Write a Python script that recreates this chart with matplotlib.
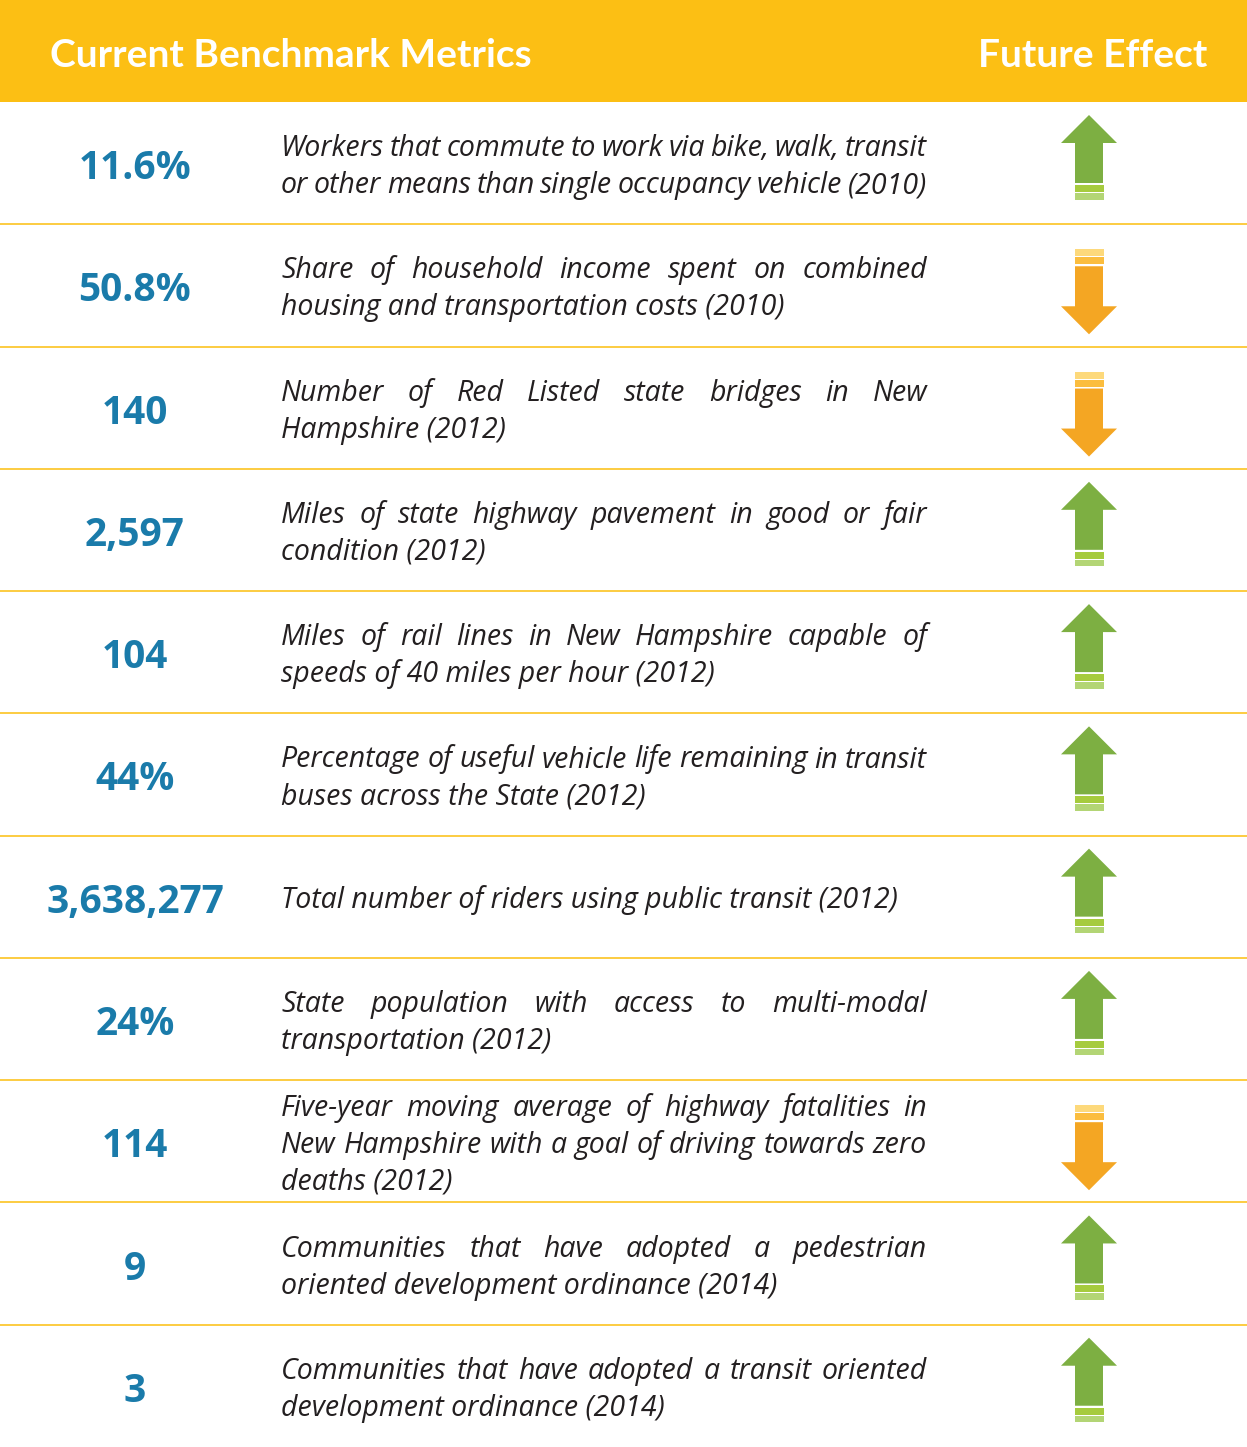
import matplotlib
matplotlib.use("Agg")
import matplotlib.pyplot as plt
from matplotlib.patches import Polygon, Rectangle

# ---------------- data ----------------
values = ["11.6%", "50.8%", "140", "2,597", "104", "44%", "3,638,277",
          "24%", "114", "9", "3"]
descriptions = [
    ["Workers that commute to work via bike, walk, transit",
     "or other means than single occupancy vehicle (2010)"],
    ["Share of household income spent on combined",
     "housing and transportation costs (2010)"],
    ["Number of Red Listed state bridges in New",
     "Hampshire (2012)"],
    ["Miles of state highway pavement in good or fair",
     "condition (2012)"],
    ["Miles of rail lines in New Hampshire capable of",
     "speeds of 40 miles per hour (2012)"],
    ["Percentage of useful vehicle life remaining in transit",
     "buses across the State (2012)"],
    ["Total number of riders using public transit (2012)"],
    ["State population with access to multi-modal",
     "transportation (2012)"],
    ["Five-year moving average of highway fatalities in",
     "New Hampshire with a goal of driving towards zero",
     "deaths (2012)"],
    ["Communities that have adopted a pedestrian",
     "oriented development ordinance (2014)"],
    ["Communities that have adopted a transit oriented",
     "development ordinance (2014)"],
]
directions = ["up", "down", "down", "up", "up", "up", "up", "up", "down", "up", "up"]
header_left = "Current Benchmark Metrics"
header_right = "Future Effect"

# ---------------- style ----------------
W, H = 1247, 1447
YELLOW = "#FCBF14"
SEP = "#FCC833"
BLUE = "#1A7BAA"
TEXT = "#231F20"
GREEN = "#7DAF42"
GREEN_S1 = "#A6CB3E"
GREEN_S2 = "#B3D575"
ORANGE = "#F4A623"
ORANGE_S1 = "#FBBD3E"
ORANGE_S2 = "#FDD97B"

HEADER_H = 102
ROW_H = (H - HEADER_H) / len(values)
TX0, TX1 = 281, 927
LINE_SP = 37
JUSTIFY_LAST = {0}

fig = plt.figure(figsize=(W / 100, H / 100), dpi=100)
ax = fig.add_axes([0, 0, 1, 1])
ax.set_xlim(0, W)
ax.set_ylim(H, 0)
ax.axis("off")
renderer = fig.canvas.get_renderer()


def width_of(t):
    bb = t.get_window_extent(renderer)
    return bb.width


def calibrate(s, target, **kw):
    t = ax.text(0, 0, s, fontsize=20, **kw)
    w = width_of(t)
    t.remove()
    return 20 * target / w


desc_kw = dict(family="Open Sans", style="italic", color=TEXT)
num_kw = dict(family="Open Sans", weight="bold", color=BLUE)
head_kw = dict(family="Lato", weight="bold", color="white")

desc_fs = calibrate("Total number of riders using public transit (2012)", 618, **desc_kw)
num_fs = calibrate("3,638,277", 178, **num_kw)
head_fs = calibrate(header_left, 481, **head_kw)

# header
ax.add_patch(Rectangle((0, 0), W, HEADER_H, color=YELLOW, lw=0))
ax.text(50, 67, header_left, fontsize=head_fs, ha="left", va="baseline", **head_kw)
ax.text(1207, 67, header_right, fontsize=head_fs, ha="right", va="baseline", **head_kw)

# separators
for i in range(1, len(values)):
    y = HEADER_H + i * ROW_H
    ax.plot([0, W], [y, y], color=SEP, lw=1.3, solid_capstyle="butt")


def draw_line(words_line, y, justify):
    if not justify:
        ax.text(TX0, y, words_line, fontsize=desc_fs, ha="left", va="baseline", **desc_kw)
        return
    words = words_line.split(" ")
    texts = [ax.text(0, y, w, fontsize=desc_fs, ha="left", va="baseline", **desc_kw)
             for w in words]
    widths = [width_of(t) for t in texts]
    gap = (TX1 - TX0 - sum(widths)) / max(len(words) - 1, 1)
    x = TX0
    for t, w in zip(texts, widths):
        t.set_x(x)
        x += w + gap


def draw_arrow(top, direction):
    cx = 1089
    if direction == "up":
        tip, hb, sb = top + 13, top + 41, top + 81
        ax.add_patch(Polygon([(cx, tip), (cx + 28, hb), (cx + 14, hb), (cx + 14, sb),
                              (cx - 14, sb), (cx - 14, hb), (cx - 28, hb)],
                             closed=True, fc=GREEN, ec="none"))
        ax.add_patch(Rectangle((cx - 14.5, top + 83), 29, 7, fc=GREEN_S1, ec="none"))
        ax.add_patch(Rectangle((cx - 14.5, top + 91), 29, 6.5, fc=GREEN_S2, ec="none"))
    else:
        ax.add_patch(Rectangle((cx - 14.5, top + 25), 29, 7, fc=ORANGE_S2, ec="none"))
        ax.add_patch(Rectangle((cx - 14.5, top + 33), 29, 7, fc=ORANGE_S1, ec="none"))
        st, hb, tip = top + 42, top + 82, top + 110
        ax.add_patch(Polygon([(cx - 14, st), (cx + 14, st), (cx + 14, hb), (cx + 28, hb),
                              (cx, tip), (cx - 28, hb), (cx - 14, hb)],
                             closed=True, fc=ORANGE, ec="none"))


for i, (val, lines, d) in enumerate(zip(values, descriptions, directions)):
    top = HEADER_H + i * ROW_H
    cy = top + ROW_H / 2
    ax.text(135, cy + 16, val, fontsize=num_fs, ha="center", va="baseline", **num_kw)
    n = len(lines)
    for k, line in enumerate(lines):
        y = cy + (k - (n - 1) / 2) * LINE_SP + 11.5
        last = (k == n - 1)
        draw_line(line, y, (not last) or (i in JUSTIFY_LAST))
    draw_arrow(top, d)

fig.savefig("out.png", dpi=100, facecolor="white")
